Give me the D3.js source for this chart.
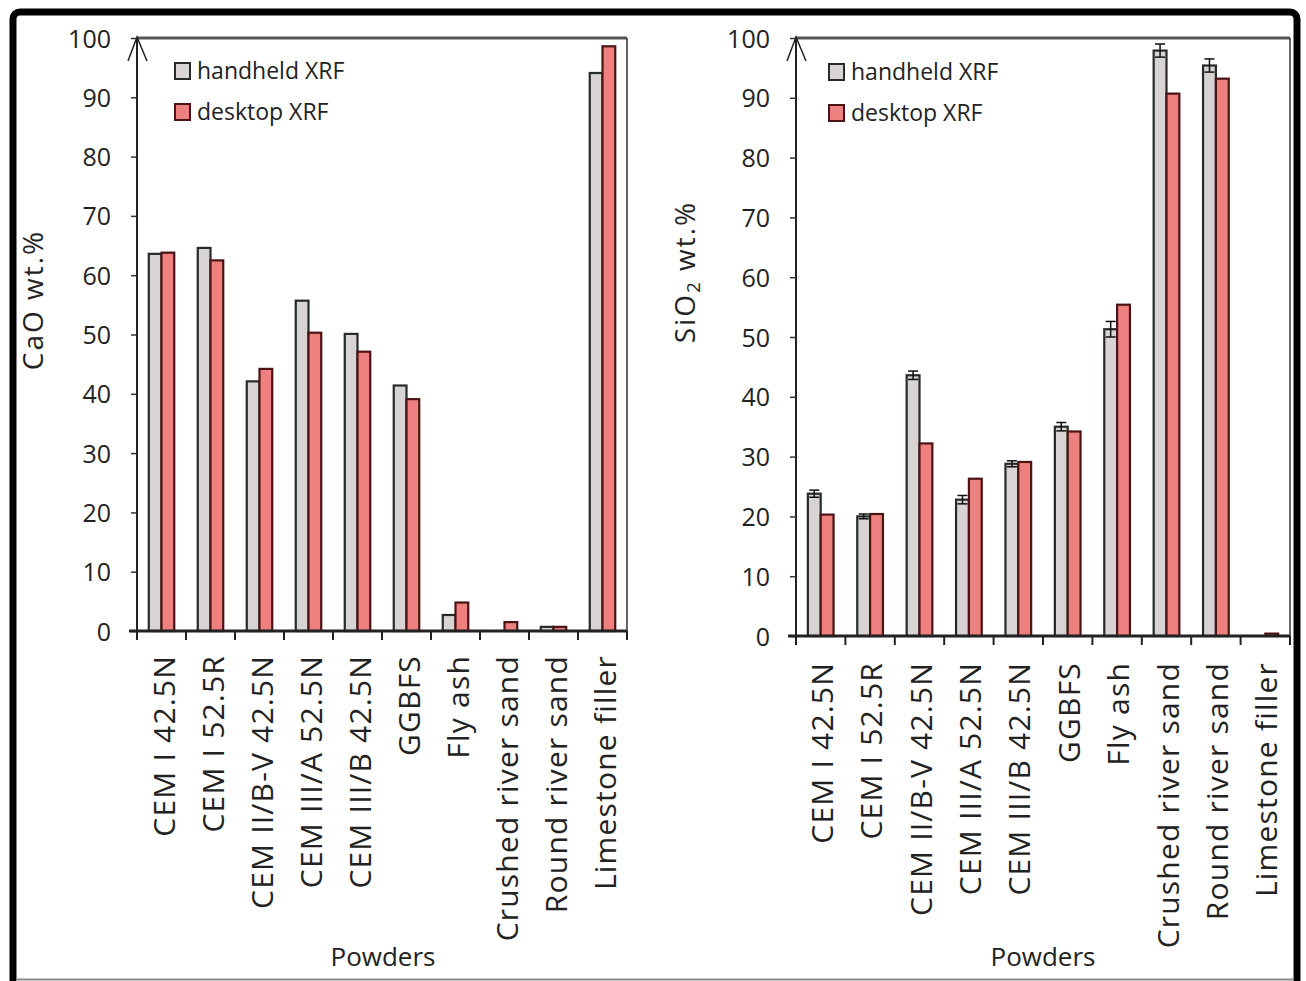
<!DOCTYPE html>
<html><head><meta charset="utf-8">
<script src="https://cdn.jsdelivr.net/npm/d3@7"></script>
<style>
html,body{margin:0;padding:0;background:#fff;}
svg{display:block;}
text{font-family:"Open Sans",sans-serif;fill:#222;}
</style></head>
<body>
<svg id="chart" width="1306" height="981"></svg>
<script>
const categories = ["CEM I 42.5N","CEM I 52.5R","CEM II/B-V 42.5N","CEM III/A 52.5N","CEM III/B 42.5N","GGBFS","Fly ash","Crushed river sand","Round river sand","Limestone filler"];
const seriesNames = ["handheld XRF","desktop XRF"];
const caoHandheld = [63.6,64.6,42.1,55.7,50.1,41.4,2.7,0,0.7,94.1];
const caoDesktop  = [63.8,62.5,44.2,50.3,47.1,39.1,4.8,1.5,0.7,98.6];
const sio2Handheld = [23.8,20.0,43.6,22.8,28.8,35.0,51.3,97.9,95.4,0];
const sio2HandheldErr = [0.6,0.4,0.7,0.7,0.5,0.7,1.3,1.1,1.1,0];
const sio2Desktop  = [20.3,20.4,32.2,26.3,29.1,34.2,55.4,90.7,93.2,0.4];
const yTicks = [0,10,20,30,40,50,60,70,80,90,100];
const xTitle = "Powders";

const colors = {handheld:"#d8d4d4", desktop:"#ee8080", handheldStroke:"#262b28", desktopStroke:"#4a1414"};

const svg = d3.select("#chart");

// outer frame
svg.append("rect").attr("x",13).attr("y",12).attr("width",1284).attr("height",1010)
  .attr("rx",7).attr("fill","none").attr("stroke","#000").attr("stroke-width",7);
svg.append("line").attr("x1",16).attr("x2",1294).attr("y1",979.5).attr("y2",979.5)
  .attr("stroke","#8a8a8a").attr("stroke-width",2);

function panel(cfg){
  const g = svg.append("g");
  const x = d3.scaleBand().domain(categories).range([cfg.x0,cfg.x1]).paddingInner(0.48).paddingOuter(0.24);
  const xs = d3.scaleBand().domain(seriesNames).range([0,x.bandwidth()]).padding(0);
  const y = d3.scaleLinear().domain([0,100]).range([cfg.y0,cfg.yTop]);
  const step = x.step();

  // plot frame top & right
  g.append("line").attr("x1",cfg.x0).attr("x2",cfg.x1).attr("y1",cfg.yTop).attr("y2",cfg.yTop)
    .attr("stroke","#555").attr("stroke-width",3);
  g.append("line").attr("x1",cfg.x1).attr("x2",cfg.x1).attr("y1",cfg.yTop).attr("y2",cfg.y0)
    .attr("stroke","#333").attr("stroke-width",1.5);

  // bars
  const rows = categories.map((c,i)=>({c, vals:[
    {s:seriesNames[0], v:cfg.hand[i], e:cfg.err?cfg.err[i]:0},
    {s:seriesNames[1], v:cfg.desk[i], e:0}]}));
  const grp = g.selectAll("g.cat").data(rows).join("g").attr("class","cat")
    .attr("transform",d=>`translate(${x(d.c)},0)`);
  grp.selectAll("rect").data(d=>d.vals.filter(v=>v.v>0)).join("rect")
    .attr("x",d=>xs(d.s)).attr("width",xs.bandwidth())
    .attr("y",d=>y(d.v)).attr("height",d=>cfg.y0-y(d.v))
    .attr("fill",d=>d.s===seriesNames[0]?colors.handheld:colors.desktop)
    .attr("stroke",d=>d.s===seriesNames[0]?colors.handheldStroke:colors.desktopStroke)
    .attr("stroke-width",2.2);
  // error bars
  grp.selectAll("g.err").data(d=>d.vals.filter(v=>v.e>0)).join("g").attr("class","err")
    .each(function(d){
      const cx = xs(d.s)+xs.bandwidth()/2, e=d3.select(this);
      e.append("line").attr("x1",cx).attr("x2",cx).attr("y1",y(d.v+d.e)).attr("y2",y(d.v-d.e)).attr("stroke","#111").attr("stroke-width",1.5);
      [d.v+d.e,d.v-d.e].forEach(t=>e.append("line").attr("x1",cx-5).attr("x2",cx+5).attr("y1",y(t)).attr("y2",y(t)).attr("stroke","#111").attr("stroke-width",1.5));
    });

  // y axis
  const ya = d3.axisLeft(y).tickValues(yTicks).tickSize(6).tickPadding(20).tickFormat(d3.format("d"));
  const yg = g.append("g").attr("transform",`translate(${cfg.x0},0)`).call(ya);
  yg.select(".domain").attr("stroke","#222").attr("stroke-width",2).attr("d",`M0,${cfg.y0}V${cfg.yTop}`);
  yg.selectAll(".tick line").attr("stroke","#333").attr("stroke-width",1.5);
  yg.selectAll(".tick text").style("font-size","25px").attr("fill","#1a1a1a").attr("dy","0.36em");
  // arrow head
  g.append("path").attr("d",`M${cfg.x0-9},${cfg.yTop+23}L${cfg.x0},${cfg.yTop-1}L${cfg.x0+10},${cfg.yTop+23}`)
    .attr("fill","none").attr("stroke","#222").attr("stroke-width",1.5);

  // x axis
  const xg = g.append("g").attr("transform",`translate(0,${cfg.y0})`);
  xg.append("line").attr("x1",cfg.x0-8).attr("x2",cfg.x1).attr("stroke","#222").attr("stroke-width",3);
  xg.selectAll("line.tk").data(d3.range(categories.length+1)).join("line").attr("class","tk")
    .attr("x1",i=>cfg.x0+i*step).attr("x2",i=>cfg.x0+i*step).attr("y1",0).attr("y2",9)
    .attr("stroke","#222").attr("stroke-width",2);
  g.selectAll("text.cl").data(categories).join("text").attr("class","cl")
    .attr("transform",c=>`translate(${x(c)+x.bandwidth()/2+cfg.lblDx},${cfg.y0+cfg.lblDy}) rotate(-90)`)
    .attr("text-anchor","end").style("font-size","30px").style("letter-spacing","1.2px").text(c=>c);
  g.append("text").attr("x",cfg.xTitleX).attr("y",966).attr("text-anchor","middle")
    .style("font-size","26px").text(xTitle);

  // y title
  const yt = g.append("text").attr("transform",`translate(${cfg.yTitleX},${cfg.yTitleY}) rotate(-90)`)
    .attr("text-anchor","middle").style("font-size","28px").style("letter-spacing","2px");
  cfg.yTitle(yt);

  // legend
  const lg = g.append("g").attr("transform",`translate(${cfg.legX},${cfg.legY})`);
  seriesNames.forEach((s,i)=>{
    lg.append("rect").attr("x",0).attr("y",i*41).attr("width",15).attr("height",16)
      .attr("fill",i?colors.desktop:colors.handheld).attr("stroke",i?colors.desktopStroke:colors.handheldStroke).attr("stroke-width",2);
    lg.append("text").attr("x",22).attr("y",i*41+16).style("font-size","23px").text(s);
  });
}

panel({x0:137,x1:627,yTop:38,y0:631,hand:caoHandheld,desk:caoDesktop,err:null,
  lblDx:13,lblDy:24,xTitleX:383,yTitleX:43,yTitleY:300,legX:175,legY:63,
  yTitle:t=>t.text("CaO wt.%")});
panel({x0:796,x1:1290,yTop:38,y0:636,hand:sio2Handheld,desk:sio2Desktop,err:sio2HandheldErr,
  lblDx:12,lblDy:26,xTitleX:1043,yTitleX:695,yTitleY:272,legX:829,legY:64,
  yTitle:t=>{t.append("tspan").text("SiO");t.append("tspan").attr("baseline-shift","-25%").style("font-size","19px").text("2");t.append("tspan").text(" wt.%");}});
</script>
</body></html>
